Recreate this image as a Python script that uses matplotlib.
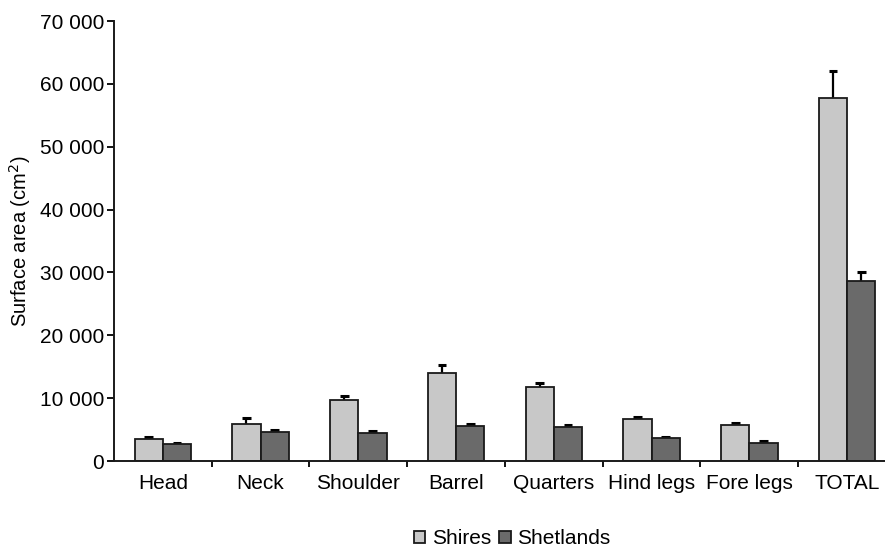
import matplotlib
matplotlib.use("Agg")
import matplotlib.pyplot as plt
from matplotlib.ticker import FuncFormatter, FixedLocator
import numpy as np

plt.rcParams["font.family"] = ["Liberation Sans", "DejaVu Sans"]

# values (cm^2), errors are upper bars only
parts = ["Head", "Neck", "Shoulder", "Barrel", "Quarters", "Hind legs",
         "Fore legs", "TOTAL"]
shires = [3450, 5950, 9650, 13950, 11800, 6680, 5780, 57750]
shires_err = [320, 850, 640, 1370, 640, 270, 270, 4250]
shetlands = [2650, 4600, 4400, 5620, 5450, 3600, 2900, 28650]
shetlands_err = [220, 270, 320, 270, 230, 260, 270, 1380]

LIGHT = "#c8c8c8"
DARK = "#6a6a6a"
EDGE = "#1a1a1a"

fig = plt.figure(figsize=(8.85, 5.5), dpi=100)
# the right end of the axis runs past the edge of the picture
ax = fig.add_axes([0.1288, 0.1618, 0.8836, 0.80])

x = np.arange(len(parts))
width = 0.29
cap = 0.045


def upper_errors(ax, xs, tops, errs):
    ends = np.asarray(tops) + np.asarray(errs)
    ax.vlines(xs, tops, ends, color="black", linewidth=1.6, zorder=1)
    ax.hlines(ends, xs - cap, xs + cap, color="black", linewidth=2.2,
              zorder=1)


for offset, vals, errs, color, label in (
        (-width / 2, shires, shires_err, LIGHT, "Shires"),
        (width / 2, shetlands, shetlands_err, DARK, "Shetlands")):
    ax.bar(x + offset, vals, width, color=color, edgecolor=EDGE,
           linewidth=1.3, label=label, zorder=2)
    upper_errors(ax, x + offset, vals, errs)

ax.set_xlim(-0.5, len(parts) - 0.5)
ax.set_ylim(0, 70000)
ax.set_yticks(np.arange(0, 70001, 10000))
ax.yaxis.set_major_formatter(
    FuncFormatter(lambda v, _: f"{int(v):,}".replace(",", " ")))
ax.set_xticks(x, parts)
ax.xaxis.set_minor_locator(FixedLocator(np.arange(0.5, len(parts) - 1, 1)))
ax.tick_params(axis="x", which="major", length=0, labelsize=15, pad=9)
ax.tick_params(axis="x", which="minor", length=4, width=1.3, direction="out")
ax.tick_params(axis="y", length=5, width=1.3, labelsize=15, pad=2)

for side in ("top", "right"):
    ax.spines[side].set_visible(False)
for side in ("left", "bottom"):
    ax.spines[side].set_linewidth(1.4)
    ax.spines[side].set_color(EDGE)
    ax.spines[side].set_zorder(3)

ax.set_ylabel("Surface area (cm$^2$)", fontsize=14.5, labelpad=5)

fig.legend(loc="center", bbox_to_anchor=(512 / 885, 1 - 539 / 550), ncol=2,
           frameon=False, fontsize=15, handlelength=0.55, handleheight=0.55,
           handletextpad=0.3, columnspacing=0.4, borderpad=0)

fig.savefig("out.png", dpi=100, facecolor="white")
